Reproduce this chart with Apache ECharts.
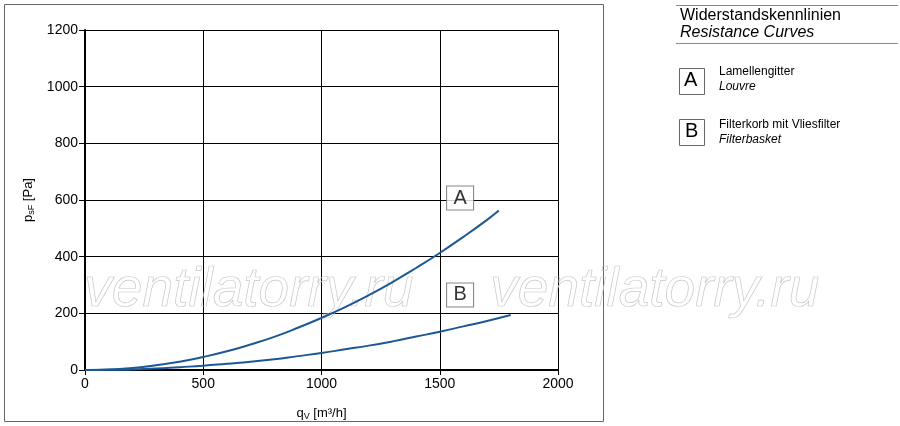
<!DOCTYPE html>
<html>
<head>
<meta charset="utf-8">
<script src="https://cdn.jsdelivr.net/npm/echarts@6/dist/echarts.min.js"></script>
<style>
  html, body { margin: 0; padding: 0; background: #fff; }
  #main { width: 900px; height: 426px; }
</style>
</head>
<body>
<div id="main"></div>
<script>
// airflow qv [m3/h] and pressure psF [Pa]
var flowA = [0, 100, 200, 300, 400, 500, 600, 700, 800, 900, 1000, 1100, 1200, 1300, 1400, 1500, 1600, 1700, 1750];
var pressA = [0, 2, 7, 17, 29, 46, 66, 90, 117, 149, 184, 222, 264, 310, 360, 413, 470, 530, 563];
var flowB = [0, 100, 200, 300, 400, 500, 600, 700, 800, 900, 1000, 1100, 1200, 1300, 1400, 1500, 1600, 1700, 1800];
var pressB = [0, 1, 2, 5, 10, 15, 22, 29, 38, 49, 60, 73, 86, 101, 118, 135, 154, 173, 194];
// curve tag positions (x, y in data units)
var tagNames = ['A', 'B'];
var tagPos = [[1586, 607], [1586, 265]];
var xTicks = [0, 500, 1000, 1500, 2000];
var yTicks = [0, 200, 400, 600, 800, 1000, 1200];

var FONT = '"Liberation Sans", Arial, sans-serif';
var lineColor = '#1d5895';

function pairs(xs, ys) {
    var out = [];
    for (var i = 0; i < xs.length; i++) out.push([xs[i], ys[i]]);
    return out;
}

var myChart = echarts.init(document.getElementById('main'));

var option = {
    backgroundColor: '#fff',
    animation: false,
    textStyle: { fontFamily: FONT },
    grid: { left: 85, right: 342, top: 30, bottom: 56 },
    xAxis: {
        type: 'value',
        min: xTicks[0],
        max: xTicks[xTicks.length - 1],
        interval: 500,
        axisLine: { show: true, onZero: false, lineStyle: { color: '#000', width: 2 } },
        axisTick: { show: true, length: 5, lineStyle: { color: '#000' } },
        axisLabel: { color: '#000', fontSize: 14, margin: 7, fontFamily: FONT,
                     formatter: function (v) { return String(v); } },
        splitLine: { show: true, lineStyle: { color: '#000', width: 1 } },
        name: '{n|q}{s|V}{n| [m³/h]}',
        nameLocation: 'middle',
        nameGap: 36,
        nameTextStyle: {
            rich: {
                n: { fontSize: 13, color: '#000', fontFamily: FONT },
                s: { fontSize: 9, color: '#000', fontFamily: FONT, verticalAlign: 'bottom', padding: [6, 0, 0, 0] }
            }
        }
    },
    yAxis: {
        type: 'value',
        min: yTicks[0],
        max: yTicks[yTicks.length - 1],
        interval: 200,
        axisLine: { show: true, lineStyle: { color: '#000', width: 2 } },
        axisTick: { show: true, length: 6, lineStyle: { color: '#000' } },
        axisLabel: { color: '#000', fontSize: 14, margin: 7, fontFamily: FONT,
                     formatter: function (v) { return String(v); } },
        splitLine: { show: true, lineStyle: { color: '#000', width: 1 } },
        name: '{n|p}{s|sF}{n| [Pa]}',
        nameLocation: 'middle',
        nameGap: 47,
        nameTextStyle: {
            rich: {
                n: { fontSize: 13, color: '#000', fontFamily: FONT },
                s: { fontSize: 9, color: '#000', fontFamily: FONT, verticalAlign: 'bottom', padding: [6, 0, 0, 0] }
            }
        }
    },
    series: [
        {
            name: 'A',
            type: 'line',
            data: pairs(flowA, pressA),
            smooth: true,
            showSymbol: false,
            lineStyle: { color: lineColor, width: 2 },
            z: 5
        },
        {
            name: 'B',
            type: 'line',
            data: pairs(flowB, pressB),
            smooth: true,
            showSymbol: false,
            lineStyle: { color: lineColor, width: 2 },
            z: 5
        },
        {
            name: 'tags',
            type: 'scatter',
            data: tagPos.map(function (p, i) { return { value: p, name: tagNames[i] }; }),
            symbol: 'rect',
            symbolSize: [27, 24],
            itemStyle: { color: '#fff', borderColor: '#666', borderWidth: 1 },
            label: {
                show: true,
                position: 'inside',
                formatter: function (p) { return p.name; },
                color: '#000',
                fontSize: 20,
                fontFamily: FONT
            },
            z: 6
        }
    ],
    graphic: [
        // outer frame of the chart
        { type: 'rect', shape: { x: 4.5, y: 4.5, width: 599, height: 417 },
          style: { fill: null, stroke: '#666', lineWidth: 1 }, z: 0 },
        // watermark
        { type: 'text', left: 84, top: 263, z: 1,
          style: { text: 'ventilatorry.ru', font: 'italic 55px ' + FONT, fill: 'rgba(255,255,255,0)', stroke: '#c8c8c8', lineWidth: 0.7 } },
        { type: 'text', left: 490, top: 263, z: 1,
          style: { text: 'ventilatorry.ru', font: 'italic 55px ' + FONT, fill: 'rgba(255,255,255,0)', stroke: '#c8c8c8', lineWidth: 0.7 } },
        // legend panel
        { type: 'line', shape: { x1: 676, y1: 5.5, x2: 898, y2: 5.5 }, style: { stroke: '#888', lineWidth: 1 } },
        { type: 'text', left: 680, top: 8, style: { text: 'Widerstandskennlinien', font: '16px ' + FONT, fill: '#000' } },
        { type: 'text', left: 680, top: 25, style: { text: 'Resistance Curves', font: 'italic 16px ' + FONT, fill: '#000' } },
        { type: 'line', shape: { x1: 676, y1: 43.5, x2: 898, y2: 43.5 }, style: { stroke: '#888', lineWidth: 1 } },
        { type: 'rect', shape: { x: 679.5, y: 68.5, width: 25, height: 26 }, style: { fill: '#fff', stroke: '#666', lineWidth: 1 } },
        { type: 'text', left: 684, top: 70, style: { text: 'A', font: '20px ' + FONT, fill: '#000' } },
        { type: 'text', left: 719, top: 66, style: { text: 'Lamellengitter', font: '12px ' + FONT, fill: '#000' } },
        { type: 'text', left: 719, top: 81, style: { text: 'Louvre', font: 'italic 12px ' + FONT, fill: '#000' } },
        { type: 'rect', shape: { x: 679.5, y: 119.5, width: 25, height: 26 }, style: { fill: '#fff', stroke: '#666', lineWidth: 1 } },
        { type: 'text', left: 685, top: 121, style: { text: 'B', font: '20px ' + FONT, fill: '#000' } },
        { type: 'text', left: 719, top: 119, style: { text: 'Filterkorb mit Vliesfilter', font: '12px ' + FONT, fill: '#000' } },
        { type: 'text', left: 719, top: 134, style: { text: 'Filterbasket', font: 'italic 12px ' + FONT, fill: '#000' } }
    ]
};

myChart.setOption(option);
</script>
</body>
</html>
